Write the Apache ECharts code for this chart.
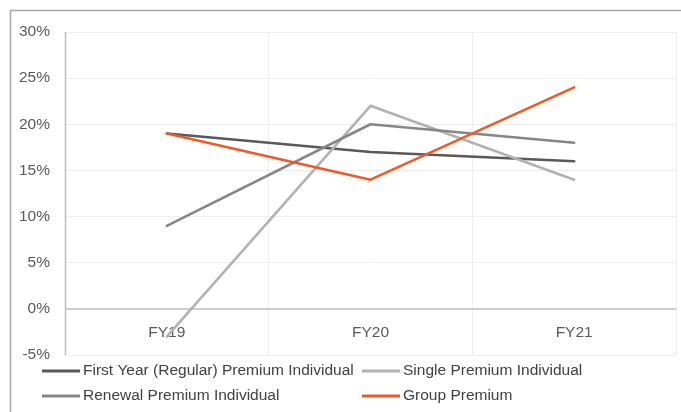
<!DOCTYPE html>
<html>
<head>
<meta charset="utf-8">
<script src="https://cdn.jsdelivr.net/npm/echarts@6/dist/echarts.min.js"></script>
<style>
  html, body { margin: 0; padding: 0; background: #ffffff; }
  #chart { width: 681px; height: 412px; }
</style>
</head>
<body>
<div id="chart"></div>
<script>
// Premium growth rates by fiscal year (%)
const categories = ['FY19', 'FY20', 'FY21'];
const firstYear = [19, 17, 16];
const singlePremium = [-3, 22, 14];
const renewal = [9, 20, 18];
const groupPremium = [19, 14, 24];

const seriesNames = [
  'First Year (Regular) Premium Individual',
  'Single Premium Individual',
  'Renewal Premium Individual',
  'Group Premium'
];
const seriesColors = ['#595959', '#b2b2b2', '#868686', '#f05a28'];
const seriesData = [firstYear, singlePremium, renewal, groupPremium];

const fontFamily = '"Liberation Sans", "DejaVu Sans", sans-serif';
const fontSize = 15.5;
const textColor = '#595959';

const chart = echarts.init(document.getElementById('chart'), null, { renderer: 'canvas' });

const legendBase = {
  orient: 'vertical',
  top: 363,
  padding: 0,
  icon: 'rect',
  itemWidth: 38,
  itemHeight: 3,
  itemGap: 9,
  textStyle: { fontFamily, fontSize, lineHeight: 16, color: '#404040', padding: [0, 0, 0, -2] },
  selectedMode: false
};

chart.setOption({
  animation: false,
  backgroundColor: '#ffffff',
  color: seriesColors,
  grid: { left: 65, top: 32, right: 5, bottom: 57, containLabel: false },
  legend: [
    Object.assign({}, legendBase, { left: 42, data: [seriesNames[0], seriesNames[2]] }),
    Object.assign({}, legendBase, { left: 362, data: [seriesNames[1], seriesNames[3]] })
  ],
  xAxis: {
    type: 'category',
    data: categories,
    boundaryGap: true,
    axisLine: { show: false },
    axisTick: { show: false },
    // category labels sit just under the 0% line
    axisLabel: { color: textColor, fontFamily, fontSize, margin: -30 },
    splitLine: { show: true, lineStyle: { color: '#eeeeee', width: 1 } }
  },
  yAxis: {
    type: 'value',
    min: -5,
    max: 30,
    interval: 5,
    axisLine: { show: false },
    axisTick: { show: false },
    axisLabel: {
      color: textColor, fontFamily, fontSize, margin: 15,
      formatter: v => v + '%'
    },
    splitLine: { lineStyle: { color: '#eeeeee', width: 1 } }
  },
  series: seriesData.map((d, i) => Object.assign({
    name: seriesNames[i],
    type: 'line',
    data: d,
    symbol: 'none',
    lineStyle: { width: 2.6, color: seriesColors[i], cap: 'round', join: 'round' },
    itemStyle: { color: seriesColors[i] },
    z: 3 + i
  }, i === 0 ? {
    // 0% baseline
    markLine: {
      silent: true,
      symbol: 'none',
      label: { show: false },
      lineStyle: { color: '#bfbfbf', width: 1.5, type: 'solid' },
      data: [{ yAxis: 0 }],
      z: 2
    }
  } : {}))
});

// Outer frame and left boundary line of the plot area
const leftTop = chart.convertToPixel({ xAxisIndex: 0, yAxisIndex: 0 }, [0, 30]);
const leftBottom = chart.convertToPixel({ xAxisIndex: 0, yAxisIndex: 0 }, [0, -5]);
chart.setOption({
  graphic: [{
    type: 'rect',
    shape: { x: 10.5, y: 10.5, width: 700, height: 450 },
    style: { fill: 'none', stroke: '#a6a6a6', lineWidth: 1.5 },
    silent: true,
    z: -1
  }, {
    type: 'line',
    shape: { x1: 65.5, y1: leftTop[1], x2: 65.5, y2: leftBottom[1] },
    style: { stroke: '#bfbfbf', lineWidth: 1.5 },
    silent: true,
    z: 2
  }]
});
</script>
</body>
</html>
